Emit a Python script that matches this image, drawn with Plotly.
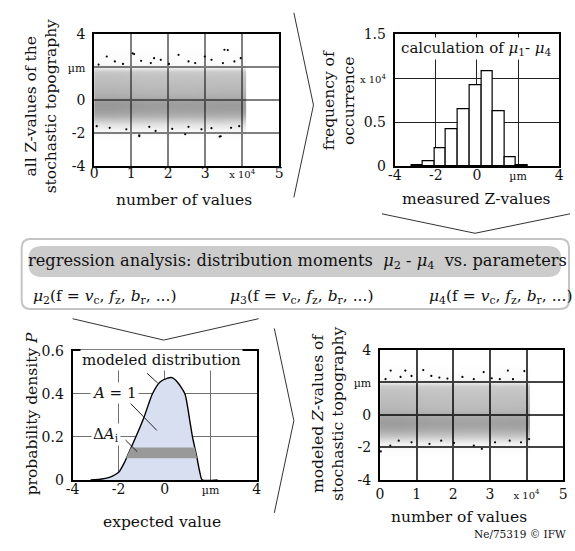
import numpy as np
import plotly.graph_objects as go

W, H = 575, 551
SERIF = "DejaVu Serif"
INK = "#111111"

# ---------------- data ----------------
# scatter clouds: vertical density profile (relative darkness) of the point cloud
cloud_y = [-2.5, -2.25, -2.0, -1.75, -1.5, -1.25, -1.0, -0.75, -0.5, -0.25, 0.0,
           0.25, 0.5, 0.75, 1.0, 1.25, 1.5, 1.75, 2.0, 2.25, 2.5, 2.75, 3.0, 3.25]
measured_density = [0.0, 0.02, 0.04, 0.09, 0.22, 0.40, 0.58, 0.70, 0.76, 0.78, 0.74,
                    0.64, 0.58, 0.55, 0.52, 0.50, 0.47, 0.42, 0.14, 0.04, 0.03, 0.02, 0.01, 0.0]
modeled_density = [0.0, 0.02, 0.05, 0.13, 0.30, 0.48, 0.62, 0.71, 0.75, 0.72, 0.66,
                   0.58, 0.54, 0.52, 0.50, 0.48, 0.45, 0.40, 0.12, 0.04, 0.03, 0.02, 0.005, 0.0]
cloud_x_edges = [0, 10000, 20000, 30000, 41000]
measured_x_factor = [1.0, 0.96, 0.95, 0.97]
modeled_x_factor = [1.0, 0.95, 0.93, 0.96]

# isolated points at the fringe of the clouds
measured_out_x = [3400, 5600, 10400, 12700, 15300, 16200, 18000, 20200, 22800, 25500, 29900,
                  31700, 34800, 36100, 37900, 39600, 1200, 7800, 27300, 35200, 10800,
                  12200, 16600, 24600, 33900, 4200, 8700, 21100, 29000, 37000, 700,
                  14900, 25500, 31700, 39200, 12200, 34200]
measured_out_y = [2.65, 2.35, 2.84, 2.39, 2.25, 2.55, 2.45, 2.2, 2.75, 2.35, 2.65,
                  2.45, 2.25, 3.04, 2.35, 2.55, 2.16, 2.2, 2.25, 3.06, 2.8,
                  -2.12, -1.86, -2.06, -2.2, -1.67, -1.76, -1.73, -1.76, -1.67, -1.57,
                  -1.61, -1.61, -1.69, -1.57, -2.18, -2.18]
modeled_out_x = [2900, 6900, 5600, 8600, 11800, 14000, 16200, 18400, 22500, 28300, 30500,
                 32700, 34900, 36300, 39400, 1500, 25600,
                 2800, 200, 8600, 13500, 16700, 25600, 27800, 31400, 35400, 38500, 40700, 5100, 20200]
modeled_out_y = [2.72, 2.72, 2.33, 2.39, 2.75, 2.39, 2.29, 2.23, 2.33, 2.63, 2.25,
                 2.19, 2.72, 2.19, 2.69, 2.19, 2.19,
                 -1.89, -2.25, -1.69, -1.79, -1.59, -1.89, -2.09, -1.69, -1.59, -1.69, -1.49, -1.59, -1.73]

# histogram of measured Z-values
hist_edges = [-3.17, -2.62, -2.06, -1.51, -0.92, -0.35, 0.21, 0.76, 1.35, 1.90, 2.46]
hist_counts = [150, 550, 2000, 4200, 6500, 9200, 10800, 6300, 1000, 120]

# modeled probability density
pdf_x = [-3.22, -2.8, -2.4, -2.0, -1.75, -1.5, -1.25, -0.9, -0.53, -0.2, 0.1, 0.32,
         0.55, 0.88, 1.1, 1.21, 1.31, 1.41, 1.52, 1.63, 2.3]
pdf_y = [0, 0.003, 0.012, 0.035, 0.08, 0.14, 0.2, 0.29, 0.4, 0.455, 0.472, 0.475,
         0.455, 0.4, 0.27, 0.2, 0.15, 0.1, 0.04, 0, 0]
band_x = [-1.68, -1.46, 1.31, 1.41]
band_y = [0.10, 0.15, 0.15, 0.10]

# tick labels
um = "<span style='font-size:11px'>µm</span>"
x10 = "<span style='font-size:10px'>x 10<sup>4</sup></span>"
count_ticks = [0, 10000, 20000, 30000, 40000, 50000]
count_text = ["0", "1", "2", "3", x10, "5"]
z_ticks = [-4, -2, 0, 2, 4]
z_text = ["-4", "-2", "0", um, "4"]
freq_ticks = [0, 5000, 10000, 15000]
freq_text = ["0", "0.5", x10, "1.5"]
p_ticks = [0, 0.2, 0.4, 0.6]
p_text = ["0", "0.2", "0.4", "0.6"]

# ---------------- helpers (layout only) ----------------
def px(x):
    return x / W

def py(y):
    return 1 - y / H

def P(x, y):
    return f"{px(x):.5f},{py(y):.5f}"

def rrect(x0, y0, x1, y1, r):
    return (f"M {P(x0 + r, y0)} L {P(x1 - r, y0)} Q {P(x1, y0)} {P(x1, y0 + r)} "
            f"L {P(x1, y1 - r)} Q {P(x1, y1)} {P(x1 - r, y1)} L {P(x0 + r, y1)} "
            f"Q {P(x0, y1)} {P(x0, y1 - r)} L {P(x0, y0 + r)} Q {P(x0, y0)} {P(x0 + r, y0)} Z")

fig = go.Figure()

cloud_scale = [[0, "rgba(0,0,0,0)"], [1, "rgba(0,0,0,0.52)"]]

# top-left: measured cloud
fig.add_trace(go.Heatmap(x=cloud_x_edges, y=cloud_y,
                         z=np.outer(measured_density, measured_x_factor),
                         colorscale=cloud_scale, zmin=0, zmax=1, zsmooth="best",
                         showscale=False, hoverinfo="skip", xaxis="x", yaxis="y"))
fig.add_trace(go.Scatter(x=measured_out_x, y=measured_out_y, mode="markers",
                         marker=dict(size=2.2, color="black"), xaxis="x", yaxis="y",
                         hoverinfo="skip"))

# top-right: histogram
edges = np.array(hist_edges)
fig.add_trace(go.Bar(x=(edges[:-1] + edges[1:]) / 2, y=hist_counts, width=np.diff(edges),
                     marker=dict(color="white", line=dict(color="black", width=1.2)),
                     xaxis="x2", yaxis="y2", hoverinfo="skip"))

# bottom-left: density
fig.add_trace(go.Scatter(x=pdf_x, y=pdf_y, mode="lines", fill="tozeroy",
                         fillcolor="#d7dff0", line=dict(color="black", width=1.4, shape="spline", smoothing=0.6),
                         xaxis="x3", yaxis="y3", hoverinfo="skip"))
fig.add_trace(go.Scatter(x=band_x, y=band_y, mode="lines", fill="toself",
                         fillcolor="#999999", line=dict(width=0),
                         xaxis="x3", yaxis="y3", hoverinfo="skip"))

# bottom-right: modeled cloud
fig.add_trace(go.Heatmap(x=cloud_x_edges, y=cloud_y,
                         z=np.outer(modeled_density, modeled_x_factor),
                         colorscale=cloud_scale, zmin=0, zmax=1, zsmooth="best",
                         showscale=False, hoverinfo="skip", xaxis="x4", yaxis="y4"))
fig.add_trace(go.Scatter(x=modeled_out_x, y=modeled_out_y, mode="markers",
                         marker=dict(size=2.2, color="black"), xaxis="x4", yaxis="y4",
                         hoverinfo="skip"))

tickfont = dict(family=SERIF, size=14, color=INK)

def ax(domain, rng, tv, tt, grid, gw, standoff):
    return dict(domain=domain, range=rng, tickvals=tv, ticktext=tt, ticks="", ticklen=0,
                showline=True, mirror=True, linecolor="black", linewidth=2,
                showgrid=True, gridcolor=grid, gridwidth=gw, zeroline=False,
                tickfont=tickfont, fixedrange=True, ticklabelstandoff=standoff)

d1x = [px(89), px(278)]
d1y = [py(163), py(27)]
d2x = [px(396), px(564)]
d3x = [px(67), px(255)]
d3y = [py(486), py(353)]
d4x = [px(381), px(568)]
d4y = [py(486), py(352)]

fig.update_layout(
    width=W, height=H, margin=dict(l=0, r=0, t=0, b=0),
    paper_bgcolor="white", plot_bgcolor="white", showlegend=False,
    font=dict(family=SERIF, color=INK),
    xaxis=ax(d1x, [0, 50000], count_ticks, count_text, "#808080", 1.5, -7),
    yaxis=dict(ax(d1y, [-4, 4], z_ticks, z_text, "#808080", 1.5, 4), anchor="x"),
    xaxis2=dict(ax(d2x, [-4, 4], z_ticks, z_text, "#222222", 1, -5), anchor="y2"),
    yaxis2=dict(ax(d1y, [0, 15000], freq_ticks, freq_text, "#222222", 1, 4), anchor="x2"),
    xaxis3=dict(ax(d3x, [-4, 4], z_ticks, z_text, "#707070", 1, -5), anchor="y3"),
    yaxis3=dict(ax(d3y, [0, 0.6], p_ticks, p_text, "#707070", 1, 4), anchor="x3"),
    xaxis4=dict(ax(d4x, [0, 50000], count_ticks, count_text, "#444444", 1.5, 0), anchor="y4"),
    yaxis4=dict(ax(d4y, [-4, 4], z_ticks, z_text, "#444444", 1.5, 4), anchor="x4"),
    bargap=0,
)

shapes = []
line_style = dict(color="#333333", width=1)
for pts in [[(293, 5), (313, 100), (293, 195)],
            [(383, 212), (478, 232), (575, 212)],
            [(67, 320), (160, 342), (257, 320)],
            [(273, 330), (293, 425), (273, 520)]]:
    path = "M " + " L ".join(P(*p) for p in pts)
    shapes.append(dict(type="path", xref="paper", yref="paper", path=path, line=line_style))
shapes.append(dict(type="path", xref="paper", yref="paper", path=rrect(15, 238, 574, 310, 9),
                   line=dict(color="#c4c4c4", width=2), fillcolor="white", layer="below"))
shapes.append(dict(type="path", xref="paper", yref="paper", path=rrect(22, 245, 566, 277, 13),
                   line=dict(width=0), fillcolor="#cccccc", layer="below"))
# leader lines in density plot
for (xa, ya, xb, yb) in [(-0.77, 0.496, -0.3, 0.45), (-1.49, 0.356, -0.34, 0.23), (-1.7, 0.185, -1.19, 0.131)]:
    shapes.append(dict(type="line", xref="x3", yref="y3", x0=xa, y0=ya, x1=xb, y1=yb,
                       line=dict(color="#222222", width=1)))
fig.update_layout(shapes=shapes)

TS = 15.5
ann = []

def A(text, x, y, size=TS, angle=0, xanchor="center", bg=None, xref="paper", yref="paper"):
    d = dict(text=text, x=x, y=y, xref=xref, yref=yref, showarrow=False, textangle=angle,
             xanchor=xanchor, yanchor="middle", font=dict(family=SERIF, size=size, color=INK))
    if bg:
        d.update(bgcolor=bg, borderpad=1)
    ann.append(d)

A("all Z-values of the<br>stochastic topography", px(35), py(101), angle=-90)
A("number of values", px(181), py(198))
A("frequency of<br>occurrence", px(339), py(95), angle=-90)
A("measured Z-values", px(480), py(197))
A("calculation of <i>μ</i><sub>1</sub>- <i>μ</i><sub>4</sub>", px(480), py(42), size=15, bg="white")
A("regression analysis: distribution moments  <i>μ</i><sub>2</sub> - <i>μ</i><sub>4</sub>  vs. parameters",
  px(297), py(261), size=16.2)
row2 = "(f = <i>v</i><sub>c</sub>, <i>f</i><sub>z</sub>, <i>b</i><sub>r</sub>, ...)"
A("<i>μ</i><sub>2</sub>" + row2, px(25), py(298), size=15.5, xanchor="left")
A("<i>μ</i><sub>3</sub>" + row2, px(226), py(298), size=15.5, xanchor="left")
A("<i>μ</i><sub>4</sub>" + row2, px(429), py(298), size=15.5, xanchor="left")
A("probability density <i>P</i>", px(25), py(418), angle=-90)
A("expected value", px(158), py(529))
A("modeled distribution", -0.13, 0.555, size=15, bg="white", xref="x3", yref="y3")
A("<i>A</i> = 1", -2.2, 0.405, size=15, bg="white", xref="x3", yref="y3")
A("Δ<i>A</i><sub>i</sub>", -2.55, 0.21, size=15, bg="white", xref="x3", yref="y3")
A("modeled <i>Z</i>-values of<br>stochastic topography", px(328), py(418), angle=-90)
A("number of values", px(462), py(524))
A("Ne/75319 © IFW", px(573), py(542), size=10.5, xanchor="right")
fig.update_layout(annotations=ann)

fig.write_html("out.html")
